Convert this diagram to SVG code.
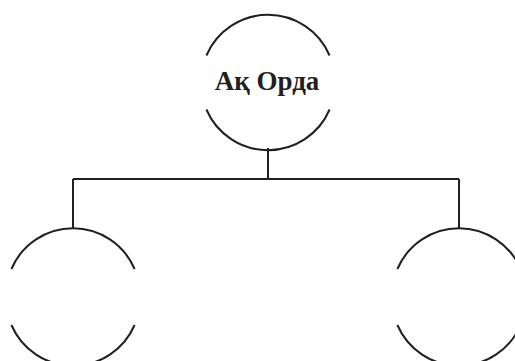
<svg xmlns="http://www.w3.org/2000/svg" width="515" height="361" viewBox="0 0 515 361">
<style>
.c{fill:none;stroke:#231f20;stroke-width:2}
.l{fill:none;stroke:#231f20;stroke-width:2}
.t{font-family:"Liberation Serif","DejaVu Serif",serif;font-weight:bold;font-size:27px;fill:#231f20;text-anchor:middle}
</style>
<rect width="515" height="361" fill="#fff"/>
<g id="connectors">
<path class="l" d="M268 148V179M73 179H459M73 179V229M459 179V229"/>
</g>
<g id="node-ak-orda">
<path class="c" d="M206.4 55.5A67 67 0 0 1 329.6 55.5M206.4 109.5A67 67 0 0 0 329.6 109.5"/>
<text class="t" x="267" y="90">Ақ Орда</text>
</g>
<g id="node-left">
<path class="c" d="M11.4 269A67 67 0 0 1 134.6 269M11.4 325A67 67 0 0 0 134.6 325"/>
</g>
<g id="node-right">
<path class="c" d="M397.4 269A67 67 0 0 1 520.6 269M397.4 325A67 67 0 0 0 520.6 325"/>
</g>
</svg>
